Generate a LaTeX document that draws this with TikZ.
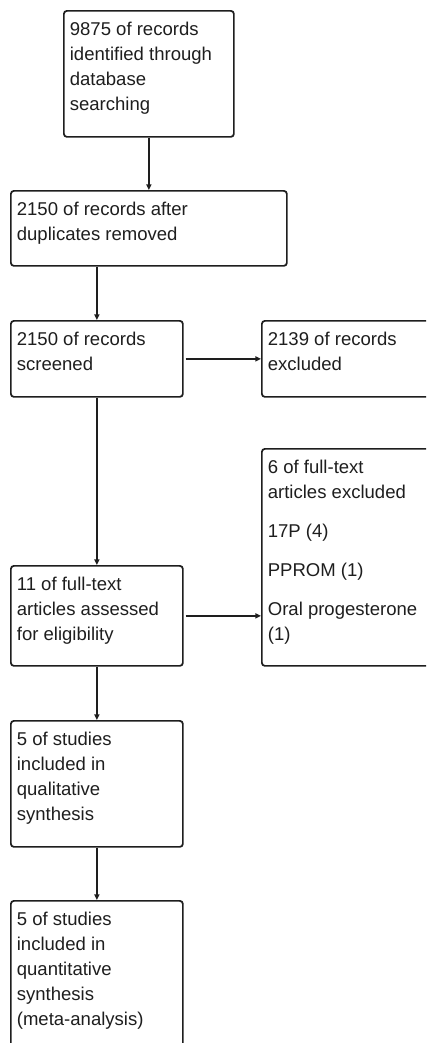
\documentclass[tikz,border=0pt]{standalone}
\usepackage{fontspec}
\setmainfont{Liberation Sans}
\usetikzlibrary{arrows.meta}
\definecolor{ink}{HTML}{1E1E1E}
\newcommand{\bxt}[3]{\parbox[b][#2][t]{#1}{\raggedright\fontsize{13.9pt}{18.75pt}\selectfont\rule{0pt}{18.75pt}#3}}
\tikzset{
  box/.style={draw=ink, line width=1.3pt, rounded corners=2.3pt, inner xsep=4.5pt, inner ysep=0pt, anchor=north west, text=ink},
  conn/.style={draw=ink, line width=1.5pt, -{Triangle[width=3.8pt,length=4.2pt]}}
}
\begin{document}
\begin{tikzpicture}[x=0.75pt,y=-0.75pt]
\useasboundingbox (0,0) rectangle (426,1043);
\fill[white] (0,0) rectangle (426,1043);
\clip (0,0) rectangle (426,1043);
\node[box] (b1) at (63,10) {\bxt{118.5pt}{94.5pt}{9875 of records\\identified through\\database\\searching}};
\node[box] (b2) at (10,190) {\bxt{198pt}{56.25pt}{2150 of records after\\duplicates removed}};
\node[box] (b3) at (10,320) {\bxt{120pt}{57pt}{2150 of records\\screened}};
\node[box] (b4) at (261,320) {\bxt{126pt}{57pt}{2139 of records\\excluded}};
\node[box] (b5) at (261,448) {\bxt{126pt}{162.75pt}{6 of full-text\\articles excluded\par\vspace{10.5pt}17P (4)\par\vspace{10pt}PPROM (1)\par\vspace{10.5pt}Oral progesterone\\(1)}};
\node[box] (b6) at (10,565) {\bxt{120pt}{75pt}{11 of full-text\\articles assessed\\for eligibility}};
\node[box] (b7) at (10,720) {\bxt{120pt}{94.5pt}{5 of studies\\included in\\qualitative\\synthesis}};
\node[box] (b8) at (10,900) {\bxt{120pt}{120pt}{5 of studies\\included in\\quantitative\\synthesis\\(meta-analysis)}};
\draw[conn] (b1.south) -- (b1.south |- b2.north);
\draw[conn] (b3.north |- b2.south) -- (b3.north);
\draw[conn, shorten <=1.5pt] (b3.east) -- (b3.east -| b4.west);
\draw[conn] (b3.south) -- (b6.north);
\draw[conn, shorten <=1.5pt] (b6.east) -- (b6.east -| b5.west);
\draw[conn] (b6.south) -- (b7.north);
\draw[conn] (b7.south) -- (b8.north);
\end{tikzpicture}
\end{document}
